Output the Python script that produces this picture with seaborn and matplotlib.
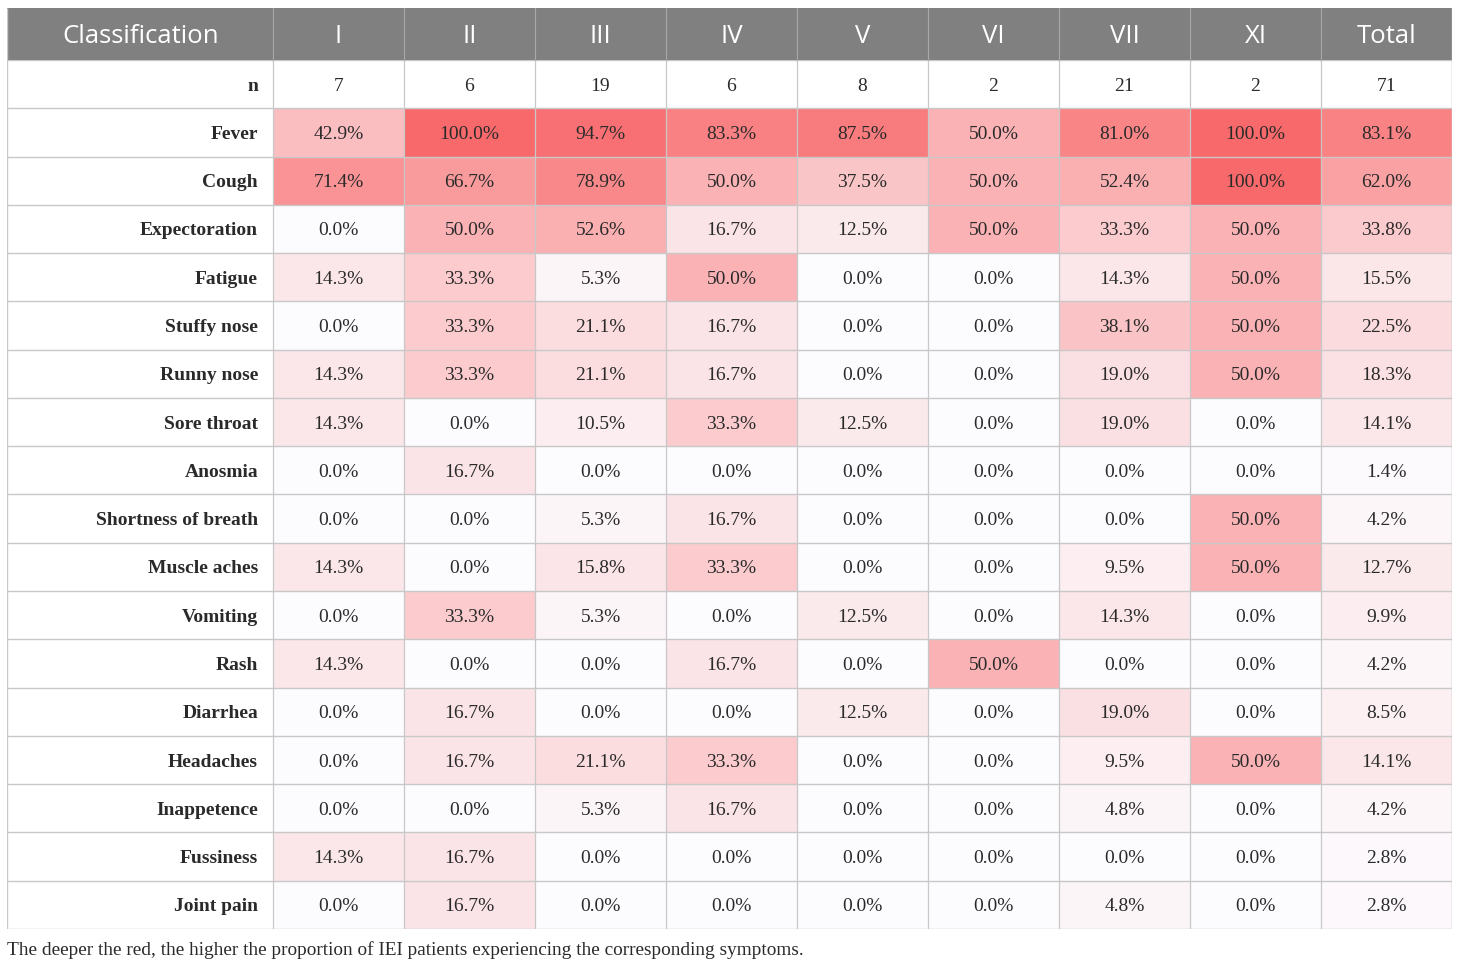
import numpy as np
import pandas as pd
import matplotlib
matplotlib.use("Agg")
import matplotlib.pyplot as plt
from matplotlib.colors import LinearSegmentedColormap
from matplotlib.patches import Rectangle
import seaborn as sns

columns = ["I", "II", "III", "IV", "V", "VI", "VII", "XI", "Total"]
n_values = [7, 6, 19, 6, 8, 2, 21, 2, 71]
symptoms = ["Fever", "Cough", "Expectoration", "Fatigue", "Stuffy nose", "Runny nose",
            "Sore throat", "Anosmia", "Shortness of breath", "Muscle aches", "Vomiting",
            "Rash", "Diarrhea", "Headaches", "Inappetence", "Fussiness", "Joint pain"]
fever = [42.9, 100.0, 94.7, 83.3, 87.5, 50.0, 81.0, 100.0, 83.1]
cough = [71.4, 66.7, 78.9, 50.0, 37.5, 50.0, 52.4, 100.0, 62.0]
expectoration = [0.0, 50.0, 52.6, 16.7, 12.5, 50.0, 33.3, 50.0, 33.8]
fatigue = [14.3, 33.3, 5.3, 50.0, 0.0, 0.0, 14.3, 50.0, 15.5]
stuffy_nose = [0.0, 33.3, 21.1, 16.7, 0.0, 0.0, 38.1, 50.0, 22.5]
runny_nose = [14.3, 33.3, 21.1, 16.7, 0.0, 0.0, 19.0, 50.0, 18.3]
sore_throat = [14.3, 0.0, 10.5, 33.3, 12.5, 0.0, 19.0, 0.0, 14.1]
anosmia = [0.0, 16.7, 0.0, 0.0, 0.0, 0.0, 0.0, 0.0, 1.4]
shortness_of_breath = [0.0, 0.0, 5.3, 16.7, 0.0, 0.0, 0.0, 50.0, 4.2]
muscle_aches = [14.3, 0.0, 15.8, 33.3, 0.0, 0.0, 9.5, 50.0, 12.7]
vomiting = [0.0, 33.3, 5.3, 0.0, 12.5, 0.0, 14.3, 0.0, 9.9]
rash = [14.3, 0.0, 0.0, 16.7, 0.0, 50.0, 0.0, 0.0, 4.2]
diarrhea = [0.0, 16.7, 0.0, 0.0, 12.5, 0.0, 19.0, 0.0, 8.5]
headaches = [0.0, 16.7, 21.1, 33.3, 0.0, 0.0, 9.5, 50.0, 14.1]
inappetence = [0.0, 0.0, 5.3, 16.7, 0.0, 0.0, 4.8, 0.0, 4.2]
fussiness = [14.3, 16.7, 0.0, 0.0, 0.0, 0.0, 0.0, 0.0, 2.8]
joint_pain = [0.0, 16.7, 0.0, 0.0, 0.0, 0.0, 4.8, 0.0, 2.8]
caption = "The deeper the red, the higher the proportion of IEI patients experiencing the corresponding symptoms."

values = [fever, cough, expectoration, fatigue, stuffy_nose, runny_nose, sore_throat,
          anosmia, shortness_of_breath, muscle_aches, vomiting, rash, diarrhea,
          headaches, inappetence, fussiness, joint_pain]
df = pd.DataFrame(values, index=symptoms, columns=columns)
annot = df.map(lambda v: f"{v:.1f}%")

W, H = 1460, 966
fig = plt.figure(figsize=(W / 100, H / 100), dpi=100)
left_px, right_px, top_px, bottom_px = 7, 1452, 8, 929
ax = fig.add_axes([left_px / W, 1 - bottom_px / H, (right_px - left_px) / W, (bottom_px - top_px) / H])

cmap = LinearSegmentedColormap.from_list("wr", ["#FCFCFF", "#F8696B"])
grid = "#c8c8c8"
txt = "#2a2a2a"
serif = ["Liberation Serif", "DejaVu Serif"]
sans = ["Open Sans", "DejaVu Sans"]
num_fs = 14
lab_fs = 14

sns.heatmap(df, ax=ax, cmap=cmap, vmin=0, vmax=100, cbar=False, annot=annot, fmt="",
            annot_kws={"fontsize": num_fs, "color": txt, "family": serif,
                       "va": "center_baseline"},
            linewidths=0)

ncols = len(columns)
nrows = len(symptoms)
row_h_px = (bottom_px - 108) / nrows
col_w_px = (right_px - 273) / ncols
label_w = (273 - left_px) / col_w_px
head_h = (60 - top_px) / row_h_px

ax.set_xlim(-label_w, ncols)
ax.set_ylim(nrows, -1 - head_h)
ax.set_xticks([])
ax.set_yticks([])
ax.set_xlabel("")
ax.set_ylabel("")
for s in ax.spines.values():
    s.set_visible(False)

# header row
ax.add_patch(Rectangle((-label_w, -1 - head_h), label_w + ncols, head_h,
                       facecolor="#808080", edgecolor="none", zorder=3))
for x in range(ncols + 1):
    ax.plot([x, x], [-1 - head_h, -1], color="#a8a8a8", lw=0.8, zorder=4)
ax.text(-label_w + 55 / col_w_px, -1 - head_h / 2, "Classification", ha="left",
        va="center_baseline", color="white", fontsize=18.5, family=sans, zorder=5)
for j, c in enumerate(columns):
    ax.text(j + 0.5, -1 - head_h / 2, c, ha="center", va="center_baseline", color="white",
            fontsize=18.5, family=sans, zorder=5)

# n row
ax.add_patch(Rectangle((-label_w, -1), label_w + ncols, 1, facecolor="white",
                       edgecolor="none", zorder=1))
ax.text(-15 / col_w_px, -0.5, "n", ha="right", va="center_baseline", color=txt,
        fontsize=lab_fs, family=serif, fontweight="bold", zorder=5)
for j, nv in enumerate(n_values):
    ax.text(j + 0.5, -0.5, str(nv), ha="center", va="center_baseline", color=txt,
            fontsize=num_fs, family=serif, zorder=5)

# label column
ax.add_patch(Rectangle((-label_w, 0), label_w, nrows, facecolor="white",
                       edgecolor="none", zorder=1))
for i, s in enumerate(symptoms):
    ax.text(-15 / col_w_px, i + 0.5, s, ha="right", va="center_baseline", color=txt,
            fontsize=lab_fs, family=serif, fontweight="bold", zorder=5)

# grid lines over the whole body
ax.hlines(range(-1, nrows + 1), -label_w, ncols, color=grid, lw=1.0, zorder=2.5)
ax.vlines(range(0, ncols + 1), -1, nrows, color=grid, lw=0.9, zorder=2.5)
ax.vlines([-label_w], -1 - head_h, nrows, color=grid, lw=1.0, zorder=4)
ax.vlines([ncols], -1 - head_h, nrows, color=grid, lw=1.0, zorder=4)

fig.text(left_px / W, 1 - 948 / H, caption, ha="left", va="center_baseline", color=txt,
         fontsize=13.9, family=serif)

fig.savefig("out.png", dpi=100)
